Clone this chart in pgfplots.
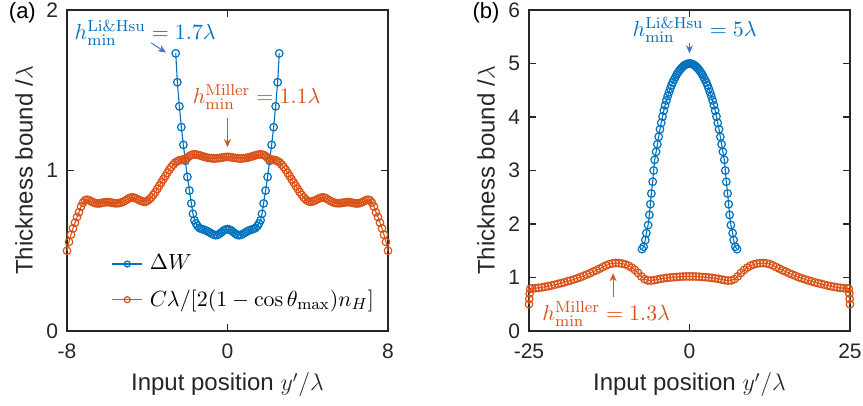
\documentclass[border=0pt]{standalone}
\usepackage[no-math]{fontspec}
\setmainfont{Liberation Sans}
\usepackage{pgfplots}
\pgfplotsset{compat=1.18}
\usetikzlibrary{arrows.meta}

\definecolor{mblue}{RGB}{0,114,189}
\definecolor{morange}{RGB}{217,83,25}
\definecolor{mgray}{RGB}{38,38,38}
\definecolor{arrblue}{RGB}{68,114,196}

\pgfplotsset{
  panel/.style={
    scale only axis, width=160.5pt, height=160.5pt,
    axis line style={mgray, line width=0.6pt},
    every tick/.style={mgray, line width=0.6pt},
    tick align=inside, major tick length=3.3pt,
    xtick pos=both, ytick pos=both,
    xticklabel pos=bottom, yticklabel pos=left,
    tick label style={font=\fontsize{10.5}{12}\selectfont, text=mgray},
    xticklabel style={yshift=-3pt},
    yticklabel style={xshift=-1pt},
    label style={font=\fontsize{12}{14}\selectfont, text=mgray},
    xlabel style={at={(axis description cs:0.5,-0.168)}, anchor=center},
    ylabel style={at={(axis description cs:-0.134,0.5)}, anchor=center},
    xlabel={Input position $y'/\lambda$},
    ylabel={Thickness bound /$\lambda$},
    clip=false,
  },
  bl/.style={mblue, line width=0.55pt, mark=o, mark size=1.9pt, mark options={solid, line width=0.6pt}},
  or/.style={morange, line width=0.55pt, mark=o, mark size=1.9pt, mark options={solid, line width=0.6pt}},
  legend image code/.code={\draw[#1, mark repeat=2, mark phase=2, mark size=1.5pt] plot coordinates {(0pt,0pt) (7.5pt,0pt) (15pt,0pt)};},
}

\begin{document}
\begin{tikzpicture}
\path[use as bounding box] (-33.5pt,-37.5pt) rectangle (398pt,165.5pt);

% ---------- (a)
\begin{axis}[panel,
  xmin=-8, xmax=8, ymin=0, ymax=2,
  xtick={-8,0,8}, xticklabels={-8,0,8},
  ytick={0,1,2}, yticklabels={0,1,2},
  legend style={draw=none, fill=none, at={(rel axis cs:0.138,0.152)}, anchor=west,
    font=\fontsize{11}{13}\selectfont, row sep=4.5pt, inner sep=0pt,
    nodes={inner xsep=3.5pt}},
  legend cell align=left,
]
\addplot[bl] coordinates {
(-2.58,1.73) (-2.5,1.55) (-2.4,1.40) (-2.3,1.27) (-2.2,1.16) (-2.1,1.06) (-2.0,0.96) (-1.9,0.875)
(-1.8,0.795) (-1.72,0.73) (-1.65,0.69) (-1.57,0.67) (-1.5,0.655) (-1.4,0.642) (-1.3,0.636) (-1.2,0.632)
(-1.1,0.628) (-1.0,0.622) (-0.9,0.615) (-0.8,0.607) (-0.7,0.600) (-0.6,0.597) (-0.5,0.598) (-0.4,0.605)
(-0.3,0.615) (-0.2,0.625) (-0.1,0.632) (0,0.635)
(0.1,0.632) (0.2,0.625) (0.3,0.615) (0.4,0.605) (0.5,0.598) (0.6,0.597) (0.7,0.600) (0.8,0.607)
(0.9,0.615) (1.0,0.622) (1.1,0.628) (1.2,0.632) (1.3,0.636) (1.4,0.642) (1.5,0.655) (1.57,0.67)
(1.65,0.69) (1.72,0.73) (1.8,0.795) (1.9,0.875) (2.0,0.96) (2.1,1.06) (2.2,1.16) (2.3,1.27)
(2.4,1.40) (2.5,1.55) (2.58,1.73)
};
\addlegendentry{$\Delta W$}
\addplot[or] coordinates {
(-8.0,0.500) (-7.9,0.555) (-7.8,0.600) (-7.7,0.640) (-7.6,0.675) (-7.5,0.710) (-7.4,0.740) (-7.3,0.775)
(-7.2,0.800) (-7.1,0.815) (-7.0,0.818) (-6.9,0.815) (-6.8,0.808) (-6.7,0.802) (-6.6,0.797) (-6.5,0.795)
(-6.4,0.795) (-6.3,0.797) (-6.2,0.800) (-6.1,0.802) (-6.0,0.803) (-5.9,0.802) (-5.8,0.800) (-5.7,0.798)
(-5.6,0.796) (-5.5,0.796) (-5.4,0.797) (-5.3,0.800) (-5.2,0.805) (-5.1,0.812) (-5.0,0.820) (-4.9,0.828)
(-4.8,0.832) (-4.7,0.832) (-4.6,0.828) (-4.5,0.822) (-4.4,0.816) (-4.3,0.810) (-4.2,0.806) (-4.1,0.805)
(-4.0,0.810) (-3.9,0.820) (-3.8,0.832) (-3.7,0.848) (-3.6,0.865) (-3.5,0.885) (-3.4,0.905) (-3.3,0.925)
(-3.2,0.945) (-3.1,0.965) (-3.0,0.985) (-2.9,1.005) (-2.8,1.022) (-2.7,1.037) (-2.6,1.050) (-2.5,1.058)
(-2.4,1.064) (-2.3,1.066) (-2.2,1.068) (-2.1,1.072) (-2.0,1.080) (-1.9,1.090) (-1.8,1.097) (-1.7,1.100)
(-1.6,1.100) (-1.5,1.098) (-1.4,1.095) (-1.3,1.091) (-1.2,1.087) (-1.1,1.083) (-1.0,1.080) (-0.9,1.078)
(-0.8,1.076) (-0.7,1.075) (-0.6,1.075) (-0.5,1.076) (-0.4,1.078) (-0.3,1.080) (-0.2,1.082) (-0.1,1.084)
(0.0,1.085)
(0.1,1.084) (0.2,1.082) (0.3,1.080) (0.4,1.078) (0.5,1.076) (0.6,1.075) (0.7,1.075) (0.8,1.076)
(0.9,1.078) (1.0,1.080) (1.1,1.083) (1.2,1.087) (1.3,1.091) (1.4,1.095) (1.5,1.098) (1.6,1.100)
(1.7,1.100) (1.8,1.097) (1.9,1.090) (2.0,1.080) (2.1,1.072) (2.2,1.068) (2.3,1.066) (2.4,1.064)
(2.5,1.058) (2.6,1.050) (2.7,1.037) (2.8,1.022) (2.9,1.005) (3.0,0.985) (3.1,0.965) (3.2,0.945)
(3.3,0.925) (3.4,0.905) (3.5,0.885) (3.6,0.865) (3.7,0.848) (3.8,0.832) (3.9,0.820) (4.0,0.810)
(4.1,0.805) (4.2,0.806) (4.3,0.810) (4.4,0.816) (4.5,0.822) (4.6,0.828) (4.7,0.832) (4.8,0.832)
(4.9,0.828) (5.0,0.820) (5.1,0.812) (5.2,0.805) (5.3,0.800) (5.4,0.797) (5.5,0.796) (5.6,0.796)
(5.7,0.798) (5.8,0.800) (5.9,0.802) (6.0,0.803) (6.1,0.802) (6.2,0.800) (6.3,0.797) (6.4,0.795)
(6.5,0.795) (6.6,0.797) (6.7,0.802) (6.8,0.808) (6.9,0.815) (7.0,0.818) (7.1,0.815) (7.2,0.800)
(7.3,0.775) (7.4,0.740) (7.5,0.710) (7.6,0.675) (7.7,0.640) (7.8,0.600) (7.9,0.555) (8.0,0.500)
};
\addlegendentry{$C\lambda/[2(1-\cos\theta_{\mathrm{max}})n_H]$}

\node[text=mblue, font=\fontsize{11}{13}\selectfont] at (axis cs:-4.1,1.857)
  {$h_{\mathrm{min}}^{\mathrm{Li\&Hsu}}=1.7\lambda$};
\draw[arrblue, line width=0.5pt, -{Stealth[length=4pt,width=3.5pt]}] (axis cs:-3.8,1.795) -- (axis cs:-3.07,1.735);
\node[text=morange, font=\fontsize{11}{13}\selectfont] at (axis cs:1.45,1.458)
  {$h_{\mathrm{min}}^{\mathrm{Miller}}=1.1\lambda$};
\draw[morange, line width=0.5pt, -{Stealth[length=4pt,width=3.5pt]}] (axis cs:0,1.327) -- (axis cs:0,1.146);
\node[font=\fontsize{11}{13}\selectfont] at (rel axis cs:-0.139,0.992) {(a)};
\end{axis}

% ---------- (b)
\begin{axis}[panel, xshift=231pt,
  xmin=-25, xmax=25, ymin=0, ymax=6,
  xtick={-25,0,25}, xticklabels={-25,0,25},
  ytick={0,1,2,3,4,5,6}, yticklabels={0,1,2,3,4,5,6},
]
\addplot[bl] coordinates {
(-7.4,1.53) (-7.14,1.575) (-6.88,1.70) (-6.72,1.83) (-6.45,1.98) (-6.25,2.17) (-6.1,2.37) (-5.94,2.57)
(-5.73,2.79) (-5.58,3.0) (-5.42,3.2) (-5.2,3.35) (-5.0,3.49) (-4.8,3.63) (-4.6,3.77) (-4.4,3.89)
(-4.2,4.01) (-4.0,4.12) (-3.8,4.22) (-3.6,4.31) (-3.4,4.39) (-3.2,4.46) (-3.0,4.53) (-2.8,4.595)
(-2.6,4.65) (-2.4,4.70) (-2.2,4.745) (-2.0,4.79) (-1.8,4.83) (-1.6,4.865) (-1.4,4.895) (-1.2,4.92)
(-1.0,4.945) (-0.8,4.965) (-0.6,4.98) (-0.4,4.99) (-0.2,4.998) (0,5.0)
(0.2,4.998) (0.4,4.99) (0.6,4.98) (0.8,4.965) (1.0,4.945) (1.2,4.92) (1.4,4.895) (1.6,4.865)
(1.8,4.83) (2.0,4.79) (2.2,4.745) (2.4,4.70) (2.6,4.65) (2.8,4.595) (3.0,4.53) (3.2,4.46)
(3.4,4.39) (3.6,4.31) (3.8,4.22) (4.0,4.12) (4.2,4.01) (4.4,3.89) (4.6,3.77) (4.8,3.63)
(5.0,3.49) (5.2,3.35) (5.42,3.2) (5.58,3.0) (5.73,2.79) (5.94,2.57) (6.1,2.37) (6.25,2.17)
(6.45,1.98) (6.72,1.83) (6.88,1.70) (7.14,1.575) (7.4,1.53)
};
\addplot[or] coordinates {
(-25,0.50) (-24.95,0.60) (-24.9,0.70) (-24.8,0.79) (-24.5,0.795) (-24,0.80) (-23.5,0.807) (-23,0.815)
(-22.5,0.826) (-22,0.838) (-21.5,0.85) (-21,0.865) (-20.5,0.88) (-20,0.895) (-19.5,0.91) (-19,0.93)
(-18.5,0.945) (-18,0.965) (-17.5,0.985) (-17,1.005) (-16.5,1.03) (-16,1.055) (-15.5,1.08) (-15,1.11)
(-14.5,1.135) (-14,1.165) (-13.5,1.195) (-13,1.225) (-12.5,1.25) (-12,1.265) (-11.5,1.27) (-11,1.268)
(-10.5,1.26) (-10,1.245) (-9.5,1.22) (-9,1.185) (-8.5,1.14) (-8,1.085) (-7.5,1.02) (-7,0.97)
(-6.5,0.945) (-6,0.942) (-5.5,0.95) (-5,0.962) (-4.5,0.975) (-4,0.985) (-3.5,0.993) (-3,1.0)
(-2.5,1.005) (-2,1.01) (-1.5,1.015) (-1,1.018) (-0.5,1.02) (0,1.02)
(0.5,1.02) (1,1.018) (1.5,1.015) (2,1.01) (2.5,1.005) (3,1.0) (3.5,0.993) (4,0.985)
(4.5,0.975) (5,0.962) (5.5,0.95) (6,0.942) (6.5,0.945) (7,0.97) (7.5,1.02) (8,1.085)
(8.5,1.14) (9,1.185) (9.5,1.22) (10,1.245) (10.5,1.26) (11,1.268) (11.5,1.27) (12,1.265)
(12.5,1.25) (13,1.225) (13.5,1.195) (14,1.165) (14.5,1.135) (15,1.11) (15.5,1.08) (16,1.055)
(16.5,1.03) (17,1.005) (17.5,0.985) (18,0.965) (18.5,0.945) (19,0.93) (19.5,0.91) (20,0.895)
(20.5,0.88) (21,0.865) (21.5,0.85) (22,0.838) (22.5,0.826) (23,0.815) (23.5,0.807) (24,0.80)
(24.5,0.795) (24.8,0.79) (24.9,0.70) (24.95,0.60) (25,0.50)
};
\node[text=mblue, font=\fontsize{11}{13}\selectfont] at (axis cs:0.8,5.63)
  {$h_{\mathrm{min}}^{\mathrm{Li\&Hsu}}=5\lambda$};
\draw[arrblue, line width=0.5pt, -{Stealth[length=4pt,width=3.5pt]}] (axis cs:0,5.38) -- (axis cs:0,5.19);
\node[text=morange, font=\fontsize{11}{13}\selectfont] at (axis cs:-12.97,0.318)
  {$h_{\mathrm{min}}^{\mathrm{Miller}}=1.3\lambda$};
\draw[morange, line width=0.5pt, -{Stealth[length=4pt,width=3.5pt]}] (axis cs:-11.9,0.64) -- (axis cs:-11.9,1.08);
\node[font=\fontsize{11}{13}\selectfont] at (rel axis cs:-0.134,0.992) {(b)};
\end{axis}
\end{tikzpicture}
\end{document}
